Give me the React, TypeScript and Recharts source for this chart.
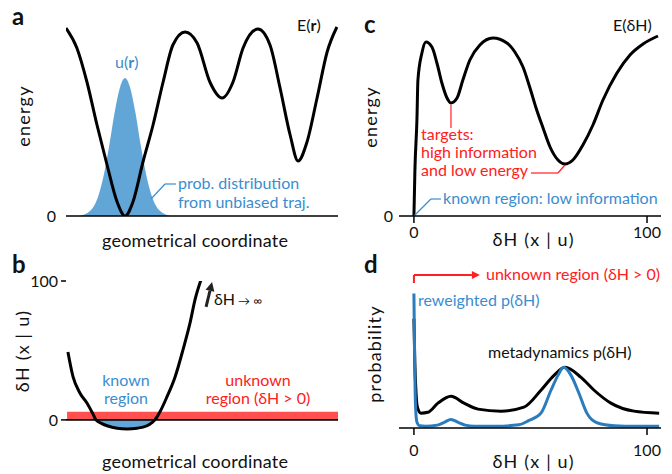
import React from "react";
import {
  ComposedChart,
  Line,
  Area,
  XAxis,
  YAxis,
  ReferenceLine,
  ReferenceArea,
} from "recharts";

const FONT = "Lato, 'Liberation Sans', sans-serif";
const BLUE_TEXT = "#3a8dd0";
const BLUE_FILL = "#62a6d8";
const BLUE_LINE = "#2b7cbd";
const RED = "#ff2020";
const RED_BAND = "#ff4f4f";

// a: energy landscape along the geometrical coordinate (0..100)
const rPos = [0, 4.0, 7.7, 11.4, 15.1, 18.8, 21.7, 24.6, 28.3, 32.0, 35.7, 39.3, 43.8, 48.2, 52.9, 57.4, 61.4, 65.1, 70.6, 75.0, 78.7, 82.4, 85.3, 88.6, 92.3, 96.0, 99.6];
const energyR = [94, 84, 67, 45.5, 25.5, 7, 0, 7, 27, 45.5, 67, 85.5, 92, 86.5, 67, 59, 67, 84, 93.5, 85.5, 64, 40.5, 27.5, 37, 59, 82, 94.5];

// a: probability from unbiased trajectory
const uPos = [5.0, 7.0, 8.8, 10.7, 12.5, 14.35, 15.8, 18.0, 19.9, 21.7, 23.5, 25.4, 27.6, 29.05, 30.9, 32.7, 34.6, 36.4, 38.4];
const uProb = [0, 0.9, 2.5, 6, 12.8, 23.5, 34.5, 52.6, 64.5, 69, 64.5, 52.6, 34.5, 23.5, 12.8, 6, 2.5, 0.9, 0];

// b: dH(x|u) along the geometrical coordinate
const bPos = [0.7, 2.6, 5.1, 7.7, 9.9, 11.0, 13.0, 15.1, 18.8, 22.4, 26.1, 29.8, 31.6, 32.7, 34.6, 37.1, 40.1, 43.0, 45.6, 47.4, 49.6];
const deltaH = [48.9, 30.9, 19.4, 12.2, 4.3, 0, -2.5, -4.2, -6, -6.5, -6, -4.2, -2, 0, 6, 16.5, 30.9, 50.4, 69.8, 86.3, 100.7];

// c: energy as a function of dH
const cDH = [0, 0.43, 1.29, 1.72, 3.43, 5.15, 7.73, 9.87, 12.0, 14.2, 15.9, 18.5, 21.0, 24.0, 28.3, 33.9, 39.9, 43.3, 46.8, 49.8, 52.4, 55.4, 58.4, 61.8, 64.8, 68.2, 72.5, 76.8, 81.1, 87.1, 92.7, 98.3, 104.7];
const energyDH = [0, 23, 48, 68, 81.5, 87, 84.5, 76.5, 66.5, 59, 56.5, 59, 68, 78, 85.5, 89, 86.5, 82, 74.5, 64, 54, 44, 34.5, 28, 26, 28, 35.5, 45.5, 58, 71.5, 80.5, 86, 90];

// d: distributions of dH
const metaDH = [0, 0.4, 0.9, 1.5, 3, 6, 10.3, 15.9, 21.5, 27.5, 37.3, 47.2, 54.5, 60.1, 64.8, 71.7, 77.3, 84.5, 94.4, 105.2];
const metaP = [76.4, 45, 25, 14.5, 10.4, 11, 17.4, 22.2, 17.4, 13.2, 11.8, 14.6, 26.4, 36.8, 42.4, 35.4, 26.4, 17.4, 11.8, 10.4];
const rewDH = [0, 0.3, 0.7, 1.3, 2.5, 5, 10, 13, 15.9, 19, 22, 26, 35, 45, 49, 54.5, 58.8, 61.8, 64.2, 67.4, 70.8, 74.2, 78.8, 86, 95, 105.2];
const rewP = [94, 50, 15, 4, 1.5, 1.2, 2, 4, 6, 4, 2, 1.2, 1.2, 2.2, 5, 10.4, 26.4, 36.8, 42.4, 36.8, 24.3, 10.4, 3.5, 1.6, 1.2, 1.2];

const zip = (xs: number[], ys: number[]) => xs.map((x, i) => ({ x, y: ys[i] }));

const eCurve = zip(rPos, energyR);
const uCurve = zip(uPos, uProb);
const bCurve = zip(bPos, deltaH);
const knownFill = bCurve.filter((p) => p.y <= 0);
const cCurve = zip(cDH, energyDH);
const metaCurve = zip(metaDH, metaP);
const rewCurve = zip(rewDH, rewP);

// line with an arrow head at its end
function arrow(color: string, width: number, head: number) {
  return (props: any) => {
    const { x1, y1, x2, y2 } = props;
    const a = Math.atan2(y2 - y1, x2 - x1);
    const bx = x2 - head * Math.cos(a);
    const by = y2 - head * Math.sin(a);
    const w = head * 0.5;
    const pts = `${x2},${y2} ${bx + w * Math.sin(a)},${by - w * Math.cos(a)} ${bx - w * Math.sin(a)},${by + w * Math.cos(a)}`;
    return (
      <g>
        <line x1={x1} y1={y1} x2={bx} y2={by} stroke={color} strokeWidth={width} />
        <polygon points={pts} fill={color} />
      </g>
    );
  };
}

const tickStyle = { fill: "#111", fontSize: 16 };

function T({ x, y, children, anchor = "start", color = "#111", size = 16, weight = 400 }: any) {
  return (
    <text x={x} y={y} textAnchor={anchor} fill={color} fontSize={size} fontWeight={weight}>
      {children}
    </text>
  );
}

// axis titles: fixed width so they span like the original
function Title({ x, y, w, children }: any) {
  return (
    <text x={x} y={y} textAnchor="middle" fill="#111" fontSize={18} textLength={w} lengthAdjust="spacing">
      {children}
    </text>
  );
}

function VT({ x, y, children }: any) {
  return (
    <text transform={`translate(${x},${y}) rotate(-90)`} textAnchor="middle" fill="#111" fontSize={18} letterSpacing={1.2}>
      {children}
    </text>
  );
}

export default function App() {
  return (
    <div
      style={{
        position: "absolute",
        left: 0,
        top: 0,
        width: 672,
        height: 474,
        background: "#fff",
        fontFamily: FONT,
        overflow: "hidden",
      }}
    >
      {/* a */}
      <div style={{ position: "absolute", left: 0, top: 0 }}>
        <ComposedChart width={340} height={240} margin={{ top: 16, right: 2, bottom: 24, left: 36 }}>
          <XAxis type="number" dataKey="x" domain={[0, 100]} hide allowDataOverflow />
          <YAxis type="number" domain={[0, 100]} ticks={[0]} axisLine={false} tickLine={false} width={30} tickMargin={4} tick={tickStyle} allowDataOverflow />
          <Area data={uCurve} dataKey="y" type="monotone" fill={BLUE_FILL} fillOpacity={1} stroke="none" isAnimationActive={false} />
          <ReferenceLine y={0} stroke="#000" strokeWidth={1.6} />
          <Line data={eCurve} dataKey="y" type="monotone" stroke="#000" strokeWidth={3} dot={false} isAnimationActive={false} />
          <ReferenceLine segment={[{ x: 31.25, y: 8.5 }, { x: 36.4, y: 16 }]} stroke={BLUE_TEXT} strokeWidth={1.2} ifOverflow="visible" />
          <ReferenceLine segment={[{ x: 36.4, y: 16 }, { x: 40.4, y: 16 }]} stroke={BLUE_TEXT} strokeWidth={1.2} ifOverflow="visible" />
        </ComposedChart>
      </div>

      {/* b */}
      <div style={{ position: "absolute", left: 0, top: 260 }}>
        <ComposedChart width={340} height={185} margin={{ top: 21, right: 2, bottom: 14, left: 36 }}>
          <XAxis type="number" dataKey="x" domain={[0, 100]} hide allowDataOverflow />
          <YAxis type="number" domain={[-8, 100]} ticks={[0, 100]} axisLine={false} tickLine={{ stroke: "#000", strokeWidth: 1.5 }} tickSize={5} width={30} tickMargin={3} tick={tickStyle} allowDataOverflow />
          <ReferenceArea x1={0.4} x2={100} y1={0} y2={5.8} fill={RED_BAND} fillOpacity={1} stroke="none" ifOverflow="visible" />
          <ReferenceLine y={0} stroke="#000" strokeWidth={1.6} />
          <Area data={knownFill} dataKey="y" type="monotone" baseValue={0} fill={BLUE_FILL} fillOpacity={1} stroke="none" isAnimationActive={false} />
          <Line data={bCurve} dataKey="y" type="monotone" stroke="#000" strokeWidth={3} dot={false} isAnimationActive={false} />
          <ReferenceLine segment={[{ x: 51.5, y: 81.3 }, { x: 53.7, y: 99.3 }]} ifOverflow="visible" shape={arrow("#222", 3, 9)} />
        </ComposedChart>
      </div>

      {/* c */}
      <div style={{ position: "absolute", left: 336, top: 0 }}>
        <ComposedChart width={336} height={260} margin={{ top: 16, right: 11, bottom: 14, left: 33 }}>
          <XAxis type="number" dataKey="x" domain={[-6.4, 106]} ticks={[0, 100]} height={30} axisLine={{ stroke: "#000", strokeWidth: 1.6 }} tickLine={{ stroke: "#000", strokeWidth: 1.5 }} tickSize={7} tickMargin={4} tick={tickStyle} allowDataOverflow />
          <YAxis type="number" domain={[0, 100]} ticks={[0]} axisLine={false} tickLine={false} width={30} tickMargin={0} tick={tickStyle} allowDataOverflow />
          <Line data={cCurve} dataKey="y" type="monotone" stroke="#000" strokeWidth={3} dot={false} isAnimationActive={false} />
          <ReferenceLine segment={[{ x: 15.9, y: 55.5 }, { x: 15.9, y: 44 }]} stroke={RED} strokeWidth={1.2} ifOverflow="visible" />
          <ReferenceLine segment={[{ x: 50.2, y: 21.5 }, { x: 61.8, y: 21.5 }]} stroke={RED} strokeWidth={1.2} ifOverflow="visible" />
          <ReferenceLine segment={[{ x: 61.8, y: 21.5 }, { x: 64.8, y: 25.5 }]} stroke={RED} strokeWidth={1.2} ifOverflow="visible" />
          <ReferenceLine segment={[{ x: 0, y: 0 }, { x: 7.3, y: 8.5 }]} stroke={BLUE_TEXT} strokeWidth={1.2} ifOverflow="visible" />
          <ReferenceLine segment={[{ x: 7.3, y: 8.5 }, { x: 11.6, y: 8.5 }]} stroke={BLUE_TEXT} strokeWidth={1.2} ifOverflow="visible" />
        </ComposedChart>
      </div>

      {/* d */}
      <div style={{ position: "absolute", left: 336, top: 260 }}>
        <ComposedChart width={336} height={214} margin={{ top: 25, right: 11, bottom: 16, left: 63 }}>
          <XAxis type="number" dataKey="x" domain={[-6.4, 106]} ticks={[0, 100]} height={30} axisLine={{ stroke: "#000", strokeWidth: 1.6 }} tickLine={{ stroke: "#000", strokeWidth: 1.5 }} tickSize={7} tickMargin={10} tick={tickStyle} allowDataOverflow />
          <YAxis type="number" domain={[0, 100]} hide allowDataOverflow />
          <Line data={metaCurve} dataKey="y" type="monotone" stroke="#000" strokeWidth={3} dot={false} isAnimationActive={false} />
          <Line data={rewCurve} dataKey="y" type="monotone" stroke={BLUE_LINE} strokeWidth={3} dot={false} isAnimationActive={false} />
          <ReferenceLine segment={[{ x: 0, y: 101.4 }, { x: 0, y: 107 }]} stroke={RED} strokeWidth={2} ifOverflow="visible" />
          <ReferenceLine segment={[{ x: 0, y: 107 }, { x: 28.3, y: 107 }]} ifOverflow="visible" shape={arrow(RED, 2, 8)} />
        </ComposedChart>
      </div>

      {/* text */}
      <svg width={672} height={474} style={{ position: "absolute", left: 0, top: 0, pointerEvents: "none" }}>
        <T x={12} y={25} size={24} weight={700}>a</T>
        <T x={12} y={273} size={24} weight={700}>b</T>
        <T x={364} y={33} size={24} weight={700}>c</T>
        <T x={364} y={273} size={24} weight={700}>d</T>

        <T x={297} y={31}>E(<tspan fontWeight={700}>r</tspan>)</T>
        <T x={115} y={68} color={BLUE_TEXT}>u(<tspan fontWeight={700}>r</tspan>)</T>
        <T x={178} y={189} color={BLUE_TEXT}>prob. distribution</T>
        <T x={178} y={208} color={BLUE_TEXT}>from unbiased traj.</T>
        <VT x={30} y={116}>energy</VT>
        <Title x={195} y={247} w={186}>geometrical coordinate</Title>

        <VT x={29} y={351}>δH (x | u)</VT>
        <T x={214} y={305}>δH<tspan fontSize={12}> → ∞</tspan></T>
        <T x={126} y={386} anchor="middle" color={BLUE_TEXT}>known</T>
        <T x={126} y={404} anchor="middle" color={BLUE_TEXT}>region</T>
        <T x={258} y={386} anchor="middle" color={RED}>unknown</T>
        <T x={258} y={404} anchor="middle" color={RED}>region (δH &gt; 0)</T>
        <Title x={195} y={468} w={186}>geometrical coordinate</Title>

        <T x={613} y={31}>E(δH)</T>
        <VT x={377} y={117}>energy</VT>
        <T x={421} y={140} color={RED}>targets:</T>
        <T x={421} y={158} color={RED}>high information</T>
        <T x={421} y={176} color={RED}>and low energy</T>
        <T x={443} y={204} color={BLUE_TEXT}>known region: low information</T>
        <Title x={533} y={246} w={81}>δH (x | u)</Title>

        <VT x={381} y={354}>probability</VT>
        <T x={486} y={280} color={RED}>unknown region (δH &gt; 0)</T>
        <T x={418} y={306} color={BLUE_TEXT}>reweighted p(δH)</T>
        <T x={488} y={358}>metadynamics p(δH)</T>
        <Title x={533} y={468} w={81}>δH (x | u)</Title>
      </svg>
    </div>
  );
}
